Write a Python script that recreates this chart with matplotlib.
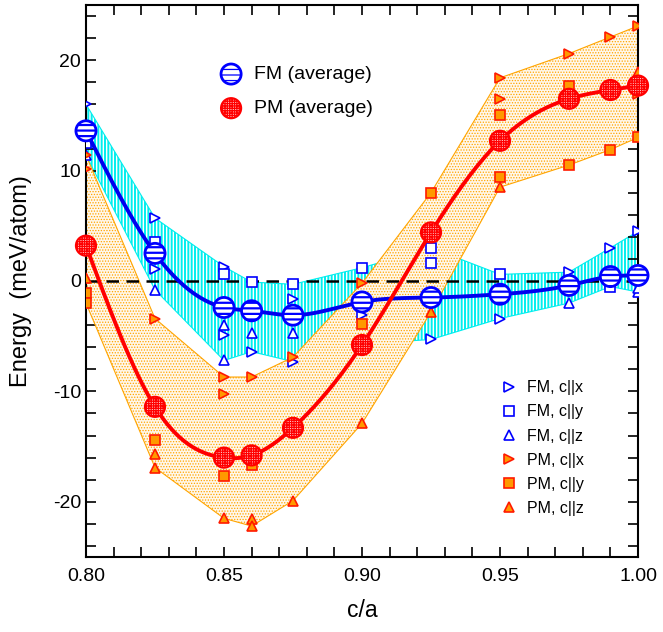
import numpy as np
import matplotlib
matplotlib.use("Agg")
import matplotlib.pyplot as plt
from matplotlib.lines import Line2D

plt.rcParams['font.family'] = ['Liberation Sans', 'DejaVu Sans']
plt.rcParams['axes.unicode_minus'] = False

nan = np.nan
ca = [0.80, 0.825, 0.85, 0.86, 0.875, 0.90, 0.925, 0.95, 0.975, 0.99, 1.00]

# averages
fm_avg = [13.6, 2.5, -2.4, -2.7, -3.1, -1.9, -1.5, -1.2, -0.4, 0.4, 0.5]
pm_avg = [3.2, -11.4, -16.0, -15.8, -13.3, -5.8, 4.4, 12.7, 16.5, 17.3, 17.7]

# individual orientations (two sets each)
fm_x = [16.0, 5.7, 1.3, -6.4, -1.6, -3.1, -5.3, -3.4, 0.8, 3.0, 4.5]
fm_x2 = [nan, 1.1, -4.9, nan, -7.3, nan, nan, nan, nan, nan, nan]
fm_y = [12.5, 3.5, 0.6, -0.1, -0.3, 1.2, 3.0, 0.6, nan, -0.5, nan]
fm_y2 = [nan, nan, nan, nan, nan, nan, 1.6, nan, nan, nan, nan]
fm_z = [11.4, -0.8, -4.0, -4.7, -4.7, -5.7, nan, nan, -2.0, nan, -1.0]
fm_z2 = [nan, nan, -7.2, nan, nan, nan, nan, nan, nan, nan, -0.6]

pm_x = [11.4, -3.4, -8.7, -8.7, -6.9, -0.2, nan, 18.4, 20.6, 22.1, 23.1]
pm_x2 = [10.1, nan, -10.2, nan, nan, nan, nan, 16.5, nan, nan, 16.9]
pm_y = [-1.1, -14.4, -17.7, -16.7, nan, -3.9, 8.0, 15.0, 17.7, 11.9, 13.0]
pm_y2 = [-2.0, nan, nan, nan, nan, nan, nan, 9.4, 10.5, nan, nan]
pm_z = [0.3, -15.7, -21.5, -21.6, -19.9, -12.9, -2.8, 8.5, nan, nan, 18.9]
pm_z2 = [nan, -16.9, nan, -22.2, nan, nan, nan, nan, nan, nan, nan]


def natural_spline(x, y, xs):
    x = np.asarray(x); y = np.asarray(y)
    n = len(x)
    h = np.diff(x)
    A = np.zeros((n, n)); b = np.zeros(n)
    A[0, 0] = A[-1, -1] = 1
    for i in range(1, n - 1):
        A[i, i - 1] = h[i - 1]
        A[i, i] = 2 * (h[i - 1] + h[i])
        A[i, i + 1] = h[i]
        b[i] = 3 * ((y[i + 1] - y[i]) / h[i] - (y[i] - y[i - 1]) / h[i - 1])
    c = np.linalg.solve(A, b)
    bb = (y[1:] - y[:-1]) / h - h * (2 * c[:-1] + c[1:]) / 3
    d = (c[1:] - c[:-1]) / (3 * h)
    idx = np.clip(np.searchsorted(x, xs) - 1, 0, n - 2)
    t = xs - x[idx]
    return y[idx] + bb[idx] * t + c[idx] * t ** 2 + d[idx] * t ** 3


fig = plt.figure(figsize=(6.63, 6.32), dpi=100)
ax = fig.add_axes([0.1297, 0.1187, 0.8326, 0.8734])

fm_all = np.array([fm_x, fm_x2, fm_y, fm_y2, fm_z, fm_z2])
pm_all = np.array([pm_x, pm_x2, pm_y, pm_y2, pm_z, pm_z2])

plt.rcParams['hatch.linewidth'] = 1.4
ax.fill_between(ca, np.nanmin(fm_all, axis=0), np.nanmax(fm_all, axis=0),
                facecolor='white', edgecolor='#00eeee', hatch='|||||',
                linewidth=0.8, zorder=1)
plt.rcParams['hatch.linewidth'] = 0.6
ax.fill_between(ca, np.nanmin(pm_all, axis=0), np.nanmax(pm_all, axis=0),
                facecolor='#fff7ea', edgecolor='#ffa500', hatch='......',
                linewidth=0.8, zorder=2)

ax.axhline(0, color='black', ls=(0, (5, 3)), lw=1.8, zorder=3)

ms = 7
fm_kw = dict(ls='none', mfc='white', mec='#0000ff', mew=1.2, ms=ms, zorder=4)
pm_kw = dict(ls='none', mfc='#ff9900', mec='#ff1a00', mew=1.2, ms=ms, zorder=4)
for vals in (fm_x, fm_x2):
    ax.plot(ca, vals, '>', **fm_kw)
for vals in (fm_y, fm_y2):
    ax.plot(ca, vals, 's', **fm_kw)
for vals in (fm_z, fm_z2):
    ax.plot(ca, vals, '^', **fm_kw)
for vals in (pm_x, pm_x2):
    ax.plot(ca, vals, '>', **pm_kw)
for vals in (pm_y, pm_y2):
    ax.plot(ca, vals, 's', **pm_kw)
for vals in (pm_z, pm_z2):
    ax.plot(ca, vals, '^', **pm_kw)

xs = np.linspace(0.80, 1.00, 400)
ax.plot(xs, natural_spline(ca, fm_avg, xs), color='#0000ee', lw=2.8, zorder=5)
ax.plot(xs, natural_spline(ca, pm_avg, xs), color='#ff0000', lw=2.8, zorder=5)

plt.rcParams['hatch.linewidth'] = 1.6
fm_sc = ax.scatter(ca, fm_avg, s=210, facecolor='white', edgecolor='#0000ff',
                   hatch='---', linewidth=2, zorder=6, clip_on=False)
plt.rcParams['hatch.linewidth'] = 0.9
pm_sc = ax.scatter(ca, pm_avg, s=210, facecolor='#ffc8c8', edgecolor='#ff0000',
                   hatch='+++++++', linewidth=1.5, zorder=6, clip_on=False)

leg1 = ax.legend([fm_sc, pm_sc], ['FM (average)', 'PM (average)'],
                 loc='upper left', bbox_to_anchor=(0.21, 0.922), frameon=False,
                 fontsize=14, handlelength=1.2, handletextpad=0.6,
                 labelspacing=0.85, scatterpoints=1)
ax.add_artist(leg1)

h2 = [
    Line2D([], [], marker='>', **fm_kw),
    Line2D([], [], marker='s', **fm_kw),
    Line2D([], [], marker='^', **fm_kw),
    Line2D([], [], marker='>', **pm_kw),
    Line2D([], [], marker='s', **pm_kw),
    Line2D([], [], marker='^', **pm_kw),
]
ax.legend(h2, ['FM, c||x', 'FM, c||y', 'FM, c||z', 'PM, c||x', 'PM, c||y', 'PM, c||z'],
          loc='upper left', bbox_to_anchor=(0.726, 0.346), frameon=False,
          fontsize=11.5, handlelength=1.0, handletextpad=0.6, labelspacing=0.57)

ax.set_xlim(0.80, 1.00)
ax.set_ylim(-25, 25)
ax.set_xticks([0.80, 0.85, 0.90, 0.95, 1.00])
ax.set_xticklabels(['0.80', '0.85', '0.90', '0.95', '1.00'])
ax.set_xticks(np.arange(0.80, 1.001, 0.01), minor=True)
ax.set_yticks([-20, -10, 0, 10, 20])
ax.set_yticks(np.arange(-24, 25, 2), minor=True)
ax.tick_params(which='both', direction='in', top=True, right=True,
               length=7, width=1.2, labelsize=14)
ax.tick_params(axis='x', pad=8)
for sp in ax.spines.values():
    sp.set_linewidth(1.5)

ax.set_xlabel('c/a', fontsize=16.5, labelpad=10)
ax.set_ylabel('Energy  (meV/atom)', fontsize=17, labelpad=15)

fig.savefig('out.png', dpi=100)
